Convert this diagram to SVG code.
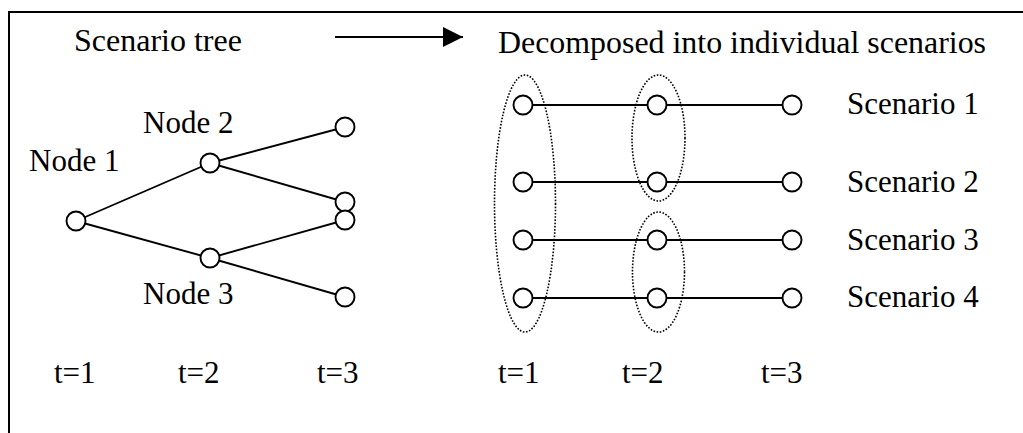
<svg xmlns="http://www.w3.org/2000/svg" width="1023" height="433" viewBox="0 0 1023 433">
<defs>
  <marker id="ah" viewBox="0 0 20 20" refX="20" refY="10" markerWidth="20" markerHeight="20" markerUnits="userSpaceOnUse" orient="auto">
    <path d="M0,0 L20,10 L0,20 Z" fill="#000"/>
  </marker>
</defs>
<rect x="0" y="0" width="1023" height="433" fill="#fff"/>
<path d="M9,440 L9,12 L1030,12" fill="none" stroke="#000" stroke-width="2"/>

<g id="titles" font-family="Liberation Serif" font-size="32" fill="#000">
  <text x="74" y="51">Scenario tree</text>
  <text x="498" y="53" textLength="488" lengthAdjust="spacingAndGlyphs">Decomposed into individual scenarios</text>
</g>

<g id="connectors" stroke="#000" stroke-width="1.9" fill="none">
  <line x1="335" y1="37" x2="463" y2="37" marker-end="url(#ah)"/>
  <line x1="76" y1="221" x2="210" y2="163"/>
  <line x1="76" y1="221" x2="210" y2="258"/>
  <line x1="210" y1="163" x2="345" y2="127"/>
  <line x1="210" y1="163" x2="345" y2="202"/>
  <line x1="210" y1="258" x2="345" y2="220"/>
  <line x1="210" y1="258" x2="345" y2="297"/>
  <line x1="523" y1="105" x2="792" y2="105"/>
  <line x1="523" y1="182" x2="792" y2="182"/>
  <line x1="523" y1="240" x2="792" y2="240"/>
  <line x1="523" y1="298" x2="792" y2="298"/>
</g>

<g id="tree-nodes" fill="#fff" stroke="#000" stroke-width="1.9">
  <g id="node1"><circle cx="76" cy="221" r="9.5"/><text x="29" y="171" font-family="Liberation Serif" font-size="31" fill="#000" stroke="none">Node 1</text></g>
  <g id="node2"><circle cx="210" cy="163" r="9.5"/><text x="143" y="133" font-family="Liberation Serif" font-size="31" fill="#000" stroke="none">Node 2</text></g>
  <g id="node3"><circle cx="210" cy="258" r="9.5"/><text x="143" y="304" font-family="Liberation Serif" font-size="31" fill="#000" stroke="none">Node 3</text></g>
  <g id="leaf1"><circle cx="345" cy="127" r="9.5"/></g>
  <g id="leaf2"><circle cx="345" cy="202" r="9.5"/></g>
  <g id="leaf3"><circle cx="345" cy="220" r="9.5"/></g>
  <g id="leaf4"><circle cx="345" cy="297" r="9.5"/></g>
</g>

<g id="scenario-nodes" fill="#fff" stroke="#000" stroke-width="1.9">
  <g id="s1"><circle cx="523" cy="105" r="9.5"/><circle cx="657" cy="105" r="9.5"/><circle cx="792" cy="105" r="9.5"/><text x="847" y="114" font-family="Liberation Serif" font-size="31" fill="#000" stroke="none">Scenario 1</text></g>
  <g id="s2"><circle cx="523" cy="182" r="9.5"/><circle cx="657" cy="182" r="9.5"/><circle cx="792" cy="182" r="9.5"/><text x="847" y="192" font-family="Liberation Serif" font-size="31" fill="#000" stroke="none">Scenario 2</text></g>
  <g id="s3"><circle cx="523" cy="240" r="9.5"/><circle cx="657" cy="240" r="9.5"/><circle cx="792" cy="240" r="9.5"/><text x="847" y="250" font-family="Liberation Serif" font-size="31" fill="#000" stroke="none">Scenario 3</text></g>
  <g id="s4"><circle cx="523" cy="298" r="9.5"/><circle cx="657" cy="298" r="9.5"/><circle cx="792" cy="298" r="9.5"/><text x="847" y="307" font-family="Liberation Serif" font-size="31" fill="#000" stroke="none">Scenario 4</text></g>
</g>

<g id="groups" fill="none" stroke="#000" stroke-width="1.6" stroke-dasharray="1.6 1.6">
  <ellipse cx="525" cy="203.5" rx="30.5" ry="128.5"/>
  <ellipse cx="658.5" cy="138" rx="26.5" ry="63"/>
  <ellipse cx="658.5" cy="272" rx="26" ry="60"/>
</g>

<g id="time-labels" font-family="Liberation Serif" font-size="31" fill="#000">
  <text x="54" y="383">t=1</text>
  <text x="178" y="383">t=2</text>
  <text x="317" y="383">t=3</text>
  <text x="498" y="383">t=1</text>
  <text x="622" y="383">t=2</text>
  <text x="761" y="383">t=3</text>
</g>
</svg>
